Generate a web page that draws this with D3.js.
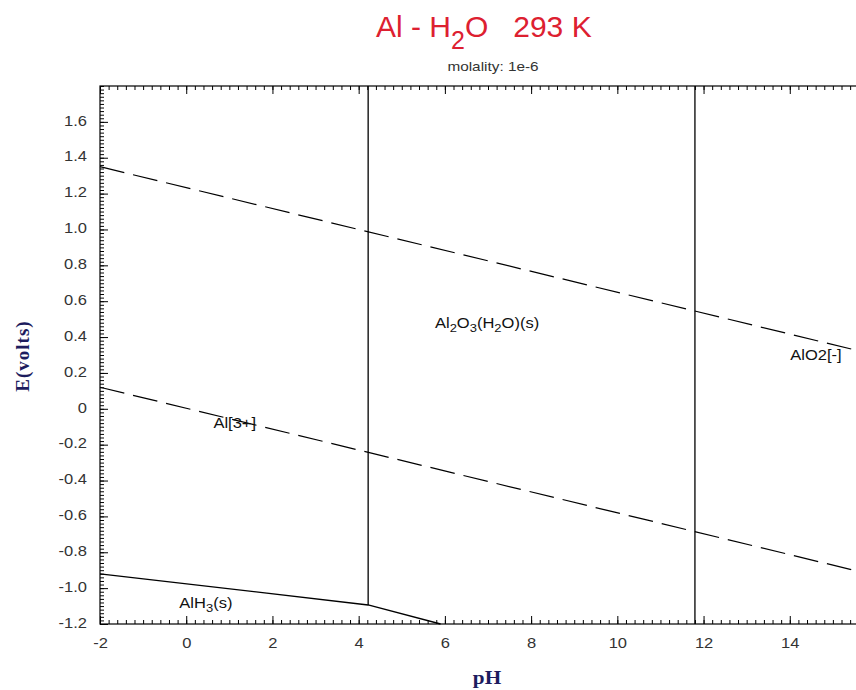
<!DOCTYPE html>
<html>
<head>
<meta charset="utf-8">
<script src="https://cdn.jsdelivr.net/npm/d3@7"></script>
<style>
  html, body { margin: 0; padding: 0; background: #fff; }
  svg { display: block; }
</style>
</head>
<body>
<svg id="chart"></svg>
<script>
// pH axis / E axis
const xTickValues = [-2, 0, 2, 4, 6, 8, 10, 12, 14]
const xTickLabels = ['-2', '0', '2', '4', '6', '8', '10', '12', '14']
const yTickValues = [-1.2, -1.0, -0.8, -0.6, -0.4, -0.2, 0, 0.2, 0.4, 0.6, 0.8, 1.0, 1.2, 1.4, 1.6]
const yTickLabels = ['-1.2', '-1.0', '-0.8', '-0.6', '-0.4', '-0.2', '0', '0.2', '0.4', '0.6', '0.8', '1.0', '1.2', '1.4', '1.6']

// water stability lines (dashed)
const oxygenLine = [[-2, 1.35], [16, 0.30]]
const hydrogenLine = [[-2, 0.12], [16, -0.93]]

// phase boundaries (solid)
const hydrideLine = [[-2, -0.92], [4.22, -1.094], [5.9, -1.2]]
const boundaryA = [[4.22, 1.8], [4.22, -1.094]]
const boundaryB = [[11.8, 1.8], [11.8, -1.2]]

// region labels: parts are [text, isSubscript]
const regionParts = [
    [['Al', 0], ['2', 1], ['O', 0], ['3', 1], ['(H', 0], ['2', 1], ['O)(s)', 0]],
    [['Al[3+]', 0]],
    [['AlO2[-]', 0]],
    [['AlH', 0], ['3', 1], ['(s)', 0]]
]
const regionPH = [5.77, 0.63, 14.01, -0.16]
const regionE = [0.45, -0.105, 0.272, -1.11]

const width = 856
const height = 690
const sx = 1.18   // the reference text is a bit wider than Arial

const svg = d3.select('#chart')
    .attr('width', width)
    .attr('height', height)
    .style('font-family', 'Arial, "Liberation Sans", sans-serif')

const x = d3.scaleLinear().domain([-2, 16]).range([100, 876])
const y = d3.scaleLinear().domain([-1.2, 1.8]).range([624, 86])

const xMinor = d3.range(0, 91).map(i => -2 + i * 0.2)
const yMinor = d3.range(0, 151).map(i => -1.2 + i * 0.02)

// title
const title = svg.append('text')
    .attr('x', 376)
    .attr('y', 37)
    .attr('font-size', '30px')
    .attr('fill', '#dd2030')
    .style('white-space', 'pre')
title.append('tspan').text('Al - H')
title.append('tspan').attr('font-size', '25px').attr('dy', 12).text('2')
title.append('tspan').attr('dy', -12).text('O   293 K')

svg.append('text')
    .attr('transform', 'translate(493,71) scale(' + sx + ',1)')
    .attr('text-anchor', 'middle')
    .attr('font-size', '13px')
    .attr('fill', '#333')
    .text('molality: 1e-6')

// axes: ticks point inward
function styleAxis(g) {
    g.select('.domain').remove()
    g.selectAll('line').attr('stroke', '#000')
}

svg.append('g')
    .attr('transform', 'translate(0,624)')
    .call(d3.axisBottom(x).tickValues(xMinor).tickSizeInner(-4).tickSizeOuter(0).tickFormat(''))
    .call(styleAxis)
svg.append('g')
    .attr('transform', 'translate(0,86)')
    .call(d3.axisTop(x).tickValues(xMinor).tickSizeInner(-4).tickSizeOuter(0).tickFormat(''))
    .call(styleAxis)
svg.append('g')
    .attr('transform', 'translate(0,86)')
    .call(d3.axisTop(x).tickValues(xTickValues).tickSizeInner(-8).tickSizeOuter(0).tickFormat(''))
    .call(styleAxis)

const xAxis = svg.append('g')
    .attr('transform', 'translate(0,624)')
    .call(d3.axisBottom(x).tickValues(xTickValues).tickSizeInner(-8).tickSizeOuter(0).tickPadding(14)
        .tickFormat((d, i) => xTickLabels[i]))
    .call(styleAxis)
xAxis.selectAll('text')
    .attr('font-size', '14px')
    .attr('font-family', 'Arial, "Liberation Sans", sans-serif')
    .attr('fill', '#333')
    .attr('transform', 'scale(' + sx + ',1)')

svg.append('g')
    .attr('transform', 'translate(100,0)')
    .call(d3.axisLeft(y).tickValues(yMinor).tickSizeInner(-4).tickSizeOuter(0).tickFormat(''))
    .call(styleAxis)
svg.append('g')
    .attr('transform', 'translate(876,0)')
    .call(d3.axisRight(y).tickValues(yMinor).tickSizeInner(-4).tickSizeOuter(0).tickFormat(''))
    .call(styleAxis)

const yAxis = svg.append('g')
    .attr('transform', 'translate(100,0)')
    .call(d3.axisLeft(y).tickValues(yTickValues).tickSizeInner(-8).tickSizeOuter(0)
        .tickFormat((d, i) => yTickLabels[i]))
    .call(styleAxis)
yAxis.selectAll('text')
    .attr('x', 0)
    .attr('dy', '0.3em')
    .attr('font-size', '14px')
    .attr('font-family', 'Arial, "Liberation Sans", sans-serif')
    .attr('fill', '#333')
    .attr('transform', 'translate(-13,-1) scale(' + sx + ',1)')

// frame
svg.append('rect')
    .attr('x', x(-2))
    .attr('y', y(1.8))
    .attr('width', x(16) - x(-2))
    .attr('height', y(-1.2) - y(1.8))
    .attr('fill', 'none')
    .attr('stroke', '#000')
    .attr('stroke-width', 1.2)

// lines
const line = d3.line()
    .x(function(d) { return x(d[0]) })
    .y(function(d) { return y(d[1]) })

const plot = svg.append('g')

;[oxygenLine, hydrogenLine].forEach(function(pts) {
    plot.append('path')
        .datum(pts)
        .attr('fill', 'none')
        .attr('stroke', '#000')
        .attr('stroke-width', 1.2)
        .attr('stroke-dasharray', '25,9')
        .attr('d', line)
})

;[hydrideLine, boundaryA, boundaryB].forEach(function(pts) {
    plot.append('path')
        .datum(pts)
        .attr('fill', 'none')
        .attr('stroke', '#000')
        .attr('stroke-width', 1.3)
        .attr('d', line)
})

// region labels
regionParts.forEach(function(parts, i) {
    const t = plot.append('text')
        .attr('transform', 'translate(' + x(regionPH[i]) + ',' + y(regionE[i]) + ') scale(' + sx + ',1)')
        .attr('font-size', '14px')
        .attr('fill', '#111')
    let shift = 0
    parts.forEach(function(p) {
        const dy = p[1] ? 4 - shift : -shift
        shift = p[1] ? 4 : 0
        t.append('tspan')
            .attr('dy', dy)
            .attr('font-size', p[1] ? '11px' : '14px')
            .text(p[0])
    })
})

// axis titles
svg.append('text')
    .attr('transform', 'translate(29,356) rotate(-90)')
    .attr('text-anchor', 'middle')
    .attr('font-family', '"Liberation Serif", "Times New Roman", serif')
    .attr('font-weight', 'bold')
    .attr('font-size', '19px')
    .attr('letter-spacing', '1px')
    .attr('fill', '#1c1c5e')
    .text('E(volts)')

svg.append('text')
    .attr('transform', 'translate(487,684) scale(' + sx + ',1)')
    .attr('text-anchor', 'middle')
    .attr('font-family', '"Liberation Serif", "Times New Roman", serif')
    .attr('font-weight', 'bold')
    .attr('font-size', '18px')
    .attr('fill', '#1c1c5e')
    .text('pH')
</script>
</body>
</html>
